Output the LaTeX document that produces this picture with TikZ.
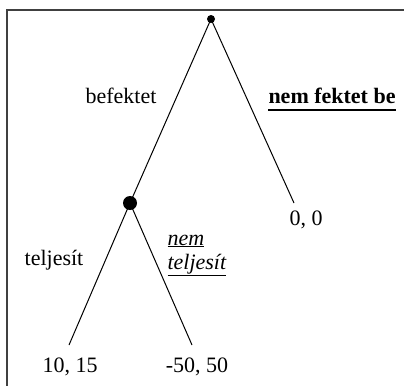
\documentclass[tikz,border=0pt]{standalone}
\usepackage{fontspec}
\setmainfont{Liberation Serif}

\begin{document}
\begin{tikzpicture}[x=1pt,y=-1pt]
        \tikzstyle{every path}=[line width=1pt]

        \tikzstyle{frame}=[draw=black!75,line width=1.2pt]
        \tikzstyle{dot}=[circle,fill=black,draw=none,inner sep=0pt]
        \tikzstyle{lbl}=[font=\fontsize{22}{26}\selectfont,inner sep=0pt]

        \useasboundingbox (0,0) rectangle (404,386);
        \draw[frame] (404,10) -- (7,10) -- (7,386);

        \node [dot,minimum size=8pt] (root) at (211,19) {};
        \node [dot,minimum size=14pt] (mid) at (130,203) {};
        \coordinate (out) at (294,203);
        \coordinate (ll) at (69,345);
        \coordinate (lr) at (192,345);

        \draw (root.center) -- (mid.center);    % befektet
        \draw (root.center) -- (out);           % nem fektet be
        \draw (mid.center) -- (ll);             % teljesit
        \draw (mid.center) -- (lr);             % nem teljesit

        \node [lbl,anchor=base] (inv) at (121,103) {befektet};
        \node [lbl,anchor=base west,font=\fontsize{22}{26}\selectfont\bfseries] (noinv) at (268,103) {nem fektet be};
        \draw [line width=2pt] ([yshift=-7pt]noinv.base west) -- ([yshift=-7pt]noinv.base east);

        \node [lbl,anchor=base] (pay0) at (306,225) {0, 0};
        \node [lbl,anchor=base] (done) at (54,265) {teljesít};
        \node [lbl,anchor=base west,font=\fontsize{22}{26}\selectfont\itshape] (nem) at (167,245) {\underline{nem}};
        \node [lbl,anchor=base west,font=\fontsize{22}{26}\selectfont\itshape] (notdone) at (167,269) {\underline{teljesít}};

        \node [lbl,anchor=base] (pay1) at (70,372) {10, 15};
        \node [lbl,anchor=base] (pay2) at (197,372) {-50, 50};
\end{tikzpicture}
\end{document}
